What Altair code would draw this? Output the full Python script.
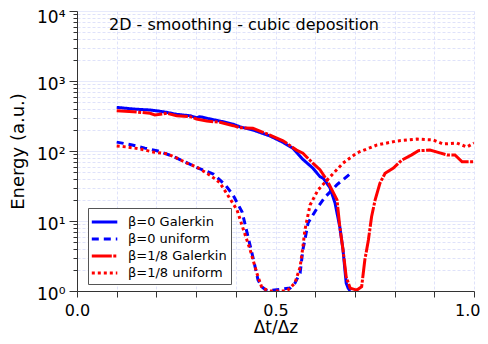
import altair as alt
import pandas as pd

# ---------------- data ----------------
series_names = ["β=0 Galerkin", "β=0 uniform", "β=1/8 Galerkin", "β=1/8 uniform"]

b0_gal_x = [0.1, 0.142, 0.184, 0.2, 0.226, 0.251, 0.285, 0.301, 0.31, 0.335, 0.36, 0.394, 0.41,
            0.443, 0.486, 0.519, 0.544, 0.569, 0.594, 0.612, 0.62, 0.637, 0.65, 0.662, 0.67,
            0.678, 0.683, 0.688]
b0_gal_y = [420, 398, 385, 376, 357, 334, 319, 299, 309, 287, 268, 241, 222,
            200, 164, 133, 109, 76, 57, 43, 41, 30, 18, 8.2, 3.9,
            1.3, 1.1, 1.0]

b0_uni_x = [0.1, 0.139, 0.171, 0.204, 0.239, 0.272, 0.305, 0.343, 0.373, 0.393, 0.416, 0.431,
            0.443, 0.456, 0.466, 0.479, 0.537, 0.549, 0.562, 0.569, 0.574, 0.582, 0.605, 0.625,
            0.655, 0.693]
b0_uni_y = [134, 122, 110, 100, 85, 70, 57, 47, 33, 23.5, 13.4, 5.9,
            3.06, 1.44, 1.14, 1.0, 1.1, 1.3, 1.8, 3.9, 5.35, 9.4, 15.3, 22,
            33, 50]

b8_gal_x = [0.1, 0.142, 0.184, 0.196, 0.226, 0.251, 0.285, 0.301, 0.327, 0.36, 0.394, 0.41,
            0.443, 0.486, 0.519, 0.553, 0.569, 0.594, 0.612, 0.63, 0.655, 0.662, 0.67, 0.678,
            0.688, 0.705, 0.717, 0.725, 0.734, 0.742, 0.751, 0.763, 0.776, 0.797, 0.818, 0.843,
            0.86, 0.889, 0.914, 0.932, 0.952, 0.97, 1.0]
b8_gal_y = [376, 364, 346, 327, 346, 319, 309, 287, 268, 257, 230, 215,
            211, 169, 140, 103, 93, 67, 54, 38, 20, 8.2, 3.9, 1.6,
            1.1, 1.03, 1.15, 2.77, 5.35, 11.5, 20, 34.6, 48, 57, 74, 88,
            101, 103, 94, 88, 88, 70, 70]

b8_uni_x = [0.1, 0.126, 0.159, 0.191, 0.227, 0.252, 0.277, 0.302, 0.335, 0.348, 0.36, 0.385,
            0.403, 0.418, 0.436, 0.453, 0.466, 0.486, 0.529, 0.549, 0.562, 0.569, 0.574, 0.587,
            0.607, 0.637, 0.67, 0.705, 0.756, 0.806, 0.856, 0.897, 0.922, 0.957, 0.982, 1.0]
b8_uni_y = [118, 114, 107, 97, 91, 79, 67, 59, 45, 40, 35, 21,
            14.4, 7.9, 3.9, 1.8, 1.1, 1.0, 1.0, 1.3, 2.2, 4.25, 7.4, 16.9,
            27.7, 42.5, 67, 94, 122, 139, 148, 144, 126, 130, 114, 130]

x_ticks = [0.0, 0.1, 0.2, 0.3, 0.4, 0.5, 0.6, 0.7, 0.8, 0.9, 1.0]
y_ticks = [1, 2, 3, 4, 5, 6, 7, 8, 9,
           10, 20, 30, 40, 50, 60, 70, 80, 90,
           100, 200, 300, 400, 500, 600, 700, 800, 900,
           1000, 2000, 3000, 4000, 5000, 6000, 7000, 8000, 9000, 10000]

title_text = "2D - smoothing - cubic deposition"
x_title = "Δt/Δz"
y_title = "Energy (a.u.)"

# ---------------- build table ----------------
rows = []
for name, xs, ys in zip(series_names,
                        [b0_gal_x, b0_uni_x, b8_gal_x, b8_uni_x],
                        [b0_gal_y, b0_uni_y, b8_gal_y, b8_uni_y]):
    for i, (xv, yv) in enumerate(zip(xs, ys)):
        rows.append({"series": name, "x": xv, "y": yv, "order": i})
df = pd.DataFrame(rows)

FONT = "DejaVu Sans"
major_test = "indexof([1,10,100,1000,10000], datum.value) >= 0"

ylabel_expr = ("datum.value == 1 ? '10⁰' : datum.value == 10 ? '10¹' : "
               "datum.value == 100 ? '10²' : datum.value == 1000 ? '10³' : "
               "datum.value == 10000 ? '10⁴' : ''")
xlabel_expr = ("(datum.value == 0 || datum.value == 0.5 || datum.value == 1) ? "
               "format(datum.value, '.1f') : ''")

lines = alt.Chart(df).mark_line(strokeWidth=3, clip=True, strokeCap="butt").encode(
    x=alt.X("x:Q",
            scale=alt.Scale(domain=[0, 1], nice=False),
            axis=alt.Axis(values=x_ticks, labelExpr=xlabel_expr, title=x_title,
                          tickSize=6, labelFontSize=16, titleFontSize=17,
                          labelPadding=5, titleY=45, titleBaseline="bottom",
                          labelAlign={"condition": {"test": "datum.value == 1", "value": "right"},
                                      "value": "center"},
                          labelOffset={"condition": {"test": "datum.value == 1", "value": 6},
                                       "value": 0},
                          labelFont=FONT, titleFont=FONT,
                          titleFontWeight="normal", labelColor="black", titleColor="black",
                          domainColor="#333333", tickColor="#333333",
                          gridColor="#dfe2fa", gridDash=[3, 2], labelFlush=False)),
    y=alt.Y("y:Q",
            scale=alt.Scale(type="log", domain=[1, 10000], nice=False),
            axis=alt.Axis(values=y_ticks, labelExpr=ylabel_expr, title=y_title,
                          tickSize={"condition": {"test": major_test, "value": 8}, "value": 4},
                          gridDash={"condition": {"test": major_test, "value": [1, 0]}, "value": [3, 2]},
                          gridColor="#dfe2fa",
                          labelFontSize=17, titleFontSize=18, labelPadding=4, titlePadding=9,
                          labelOffset={"condition": {"test": "datum.value == 10000", "value": 6},
                                       "value": 3},
                          labelFont=FONT, titleFont=FONT, titleFontWeight="normal",
                          labelColor="black", titleColor="black",
                          domainColor="#333333", tickColor="#333333", labelFlush=False)),
    color=alt.Color("series:N",
                    scale=alt.Scale(domain=series_names,
                                    range=["#0000ff", "#0000ff", "#ff0000", "#ff0000"]),
                    title=None,
                    legend=alt.Legend(orient="none", legendX=11, legendY=197,
                                      symbolType="M-1.2,0H1.8", symbolSize=289,
                                      symbolStrokeWidth=3, labelFontSize=13,
                                      labelFont=FONT, labelColor="black",
                                      labelOffset=16, rowPadding=0,
                                      padding=4, strokeColor="#555555",
                                      fillColor="white")),
    strokeDash=alt.StrokeDash("series:N",
                              scale=alt.Scale(domain=series_names,
                                              range=[[1, 0], [7, 5], [20, 1.5, 3, 1.5], [3, 3]]),
                              title=None),
    order="order:Q",
)

title_df = pd.DataFrame({"t": [title_text]})
title_mark = alt.Chart(title_df).mark_text(align="left", baseline="middle", fontSize=16,
                                           font=FONT, color="black").encode(
    x=alt.value(32), y=alt.value(14), text="t:N")

chart = alt.layer(lines, title_mark).properties(
    width=397, height=280,
    autosize=alt.AutoSizeParams(type="none"),
    padding={"left": 69, "top": 3, "right": 6, "bottom": 45},
).configure_view(strokeWidth=0)

chart.save("out.html", embed_options={"renderer": "svg", "actions": False})
